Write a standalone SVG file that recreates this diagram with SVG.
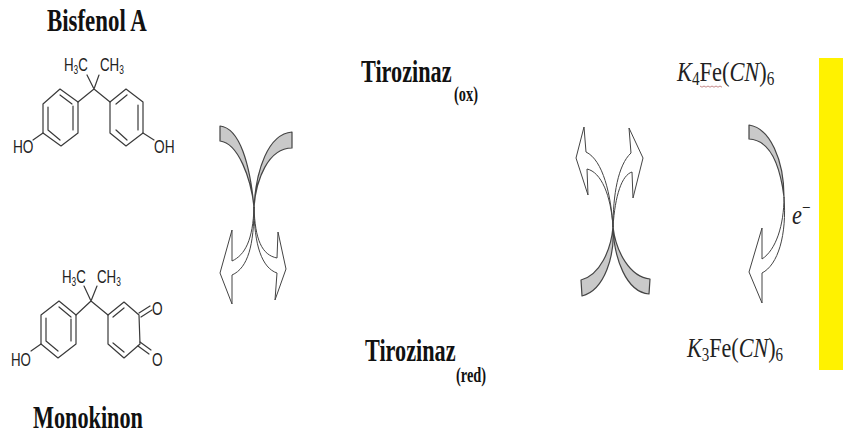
<svg xmlns="http://www.w3.org/2000/svg" width="843" height="435" viewBox="0 0 843 435">
<style>
.bond{fill:none;stroke:#3a3a3a;stroke-width:1.2;stroke-linejoin:round;stroke-linecap:round}
.atom{font-family:"Liberation Sans",Arial,sans-serif;font-size:19px;fill:#222}
.sub{font-size:12px}
.title{font-family:"Liberation Serif","Times New Roman",serif;font-weight:bold;fill:#111;font-size:32px}
.small{font-family:"Liberation Serif","Times New Roman",serif;font-weight:bold;fill:#111;font-size:20px}
.math{font-family:"Liberation Serif","Times New Roman",serif;fill:#222;font-size:28px}
.mathsub{font-size:19px}
.i{font-style:italic}
.gray{fill:#c9c9c9;stroke:#444;stroke-width:1.2;stroke-linejoin:round}
.hollow{fill:#fff;stroke:#444;stroke-width:1;stroke-linejoin:round}
</style>
<rect width="843" height="435" fill="#fff"/>
<g id="bisfenol-a">
<text class="title" transform="translate(47,31) scale(.715,1)">Bisfenol A</text>
<path class="bond" d="M60,89L78,102L78,133L61,146L43,133L43,104Z"/>
<path class="bond" d="M60,95L72,104M73,106L73,130M48,130L60,140M48,107L48,130"/>
<path class="bond" d="M78,102L94,89L110,102M94,89L87,75M94,89L99,75"/>
<path class="bond" d="M110,102L126,89L143,102L143,133L126,146L110,133Z"/>
<path class="bond" d="M127,95L116,104M138,105L138,130M116,130L127,140"/>
<path class="bond" d="M43,133L33,140M143,133L154,140"/>
<text class="atom" transform="translate(13,153) scale(.72,1)">HO</text>
<text class="atom" transform="translate(154,153) scale(.72,1)">OH</text>
<text class="atom" transform="translate(64,71) scale(.7,1)">H<tspan class="sub" dy="3">3</tspan><tspan dy="-3">C</tspan></text>
<text class="atom" transform="translate(100,71) scale(.7,1)">CH<tspan class="sub" dy="3">3</tspan></text>
</g>
<g id="monokinon">
<text class="title" transform="translate(33,428) scale(.695,1)">Monokinon</text>
<path class="bond" d="M59,301L76,315L76,344L58,358L41,344L41,315Z"/>
<path class="bond" d="M59,307L71,317M71,319L71,341M46,341L58,351M46,318L46,341"/>
<path class="bond" d="M76,315L91,301L108,315M91,301L84,286M91,301L97,286"/>
<path class="bond" d="M108,315L124,302L139,315L140,344L124,358L108,344Z"/>
<path class="bond" d="M124,308L113,317M113,343L124,352"/>
<path class="bond" d="M139,313L150,306M141,317L152,310M140,342L151,350M138,346L149,354"/>
<path class="bond" d="M41,344L31,351"/>
<text class="atom" transform="translate(11,366) scale(.7,1)">HO</text>
<text class="atom" transform="translate(152,315) scale(.72,1)">O</text>
<text class="atom" transform="translate(152,366) scale(.72,1)">O</text>
<text class="atom" transform="translate(62,283) scale(.7,1)">H<tspan class="sub" dy="3">3</tspan><tspan dy="-3">C</tspan></text>
<text class="atom" transform="translate(97,283) scale(.7,1)">CH<tspan class="sub" dy="3">3</tspan></text>
</g>
<g id="tirozinaz-ox">
<text class="title" transform="translate(361,82) scale(.695,1)">Tirozinaz</text>
<text class="small" transform="translate(454,101) scale(.72,1)">(ox)</text>
</g>
<g id="tirozinaz-red">
<text class="title" transform="translate(365,361) scale(.695,1)">Tirozinaz</text>
<text class="small" transform="translate(456,382) scale(.72,1)">(red)</text>
</g>
<g id="k4fe">
<text class="math" transform="translate(677,81) scale(.8,1)"><tspan class="i">K</tspan><tspan class="mathsub" dy="4">4</tspan><tspan dy="-4">Fe(</tspan><tspan class="i">CN</tspan>)<tspan class="mathsub" dy="4">6</tspan></text>
<path d="M700,86l2,1.2l2,-1.2l2,1.2l2,-1.2l2,1.2l2,-1.2l2,1.2l2,-1.2l2,1.2l2,-1.2l2,1.2" fill="none" stroke="#b56a6a" stroke-width="0.8"/>
</g>
<g id="k3fe">
<text class="math" transform="translate(687,357) scale(.79,1)"><tspan class="i">K</tspan><tspan class="mathsub" dy="4">3</tspan><tspan dy="-4">Fe(</tspan><tspan class="i">CN</tspan>)<tspan class="mathsub" dy="4">6</tspan></text>
</g>
<g id="electron">
<text class="math" transform="translate(792,224) scale(.8,1)"><tspan class="i">e</tspan><tspan class="mathsub" dy="-10">−</tspan></text>
</g>
<g id="electrode"><rect x="819" y="58" width="24" height="312" fill="#fff200"/></g>
<g id="connectors">
<g id="left-cross">
<path class="hollow" d="M254,207C253,240 245,255 232,261L232,230L220,273L232,304L232,275C248,268 254,245 254,207Z"/>
<path class="hollow" d="M254,207C255,240 262,255 277,258L278,232L286,269L275,300L277,273C262,268 254,245 254,207Z"/>
<path class="gray" d="M220,126C240,128 250,165 254,207C251,178 238,143 220,141Z"/>
<path class="gray" d="M292,132C268,134 256,170 254,207C256,180 268,148 292,148Z"/>
</g>
<g id="right-cross">
<path class="hollow" d="M613,227C611,195 603,160 586,152L584,127L576,158L588,195L587,169C601,172 611,195 613,227Z"/>
<path class="hollow" d="M613,227C613,195 618,165 631,153L629,128L643,158L633,198L632,172C622,175 615,195 613,227Z"/>
<path class="gray" d="M581,280C600,275 611,250 613,227C615,255 605,290 582,296Z"/>
<path class="gray" d="M650,279C630,277 616,252 613,227C614,258 626,292 649,294Z"/>
</g>
<g id="electron-arrow">
<path class="hollow" d="M784,197C784,225 776,250 762,259L762,228L749,272L762,303L762,273C778,265 787,235 784,197Z"/>
<path class="gray" d="M749,125C770,128 784,160 784,197C780,165 770,140 749,139Z"/>
</g>
</g>
</svg>
